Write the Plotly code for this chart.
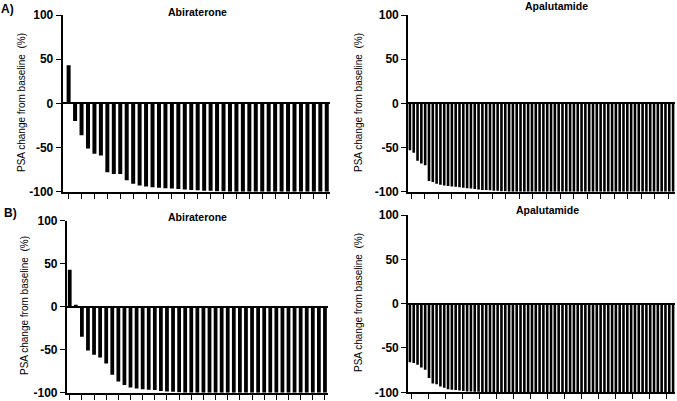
import plotly.graph_objects as go

# ---- data (PSA change from baseline, %) ----
abi_a = [43, -20, -36, -51, -57, -59, -78, -80, -80, -87, -91, -93, -94, -95, -95.5,
         -96, -96.5, -97, -97.5, -98, -98.5, -99, -99, -99.5, -99.5] + [-100] * 16
apa_a = [-53, -56, -65, -68, -70, -88, -89, -91, -92, -93, -93.5, -94, -94.5, -95,
         -95.5, -96, -96.5, -97, -97.5, -98, -98, -98.5, -99, -99, -99.5, -99.5] + [-100] * 44
abi_b = [43, 2, -35, -51, -56, -59, -66, -79, -87, -91, -94, -95, -96, -96.5, -97,
         -98, -98.5, -99, -99.5] + [-100] * 24
apa_b = [-66, -67, -69, -72, -74.5, -84, -90, -91, -93.5, -95, -96.5, -97, -97.5,
         -98, -98.5, -99, -99, -99.5, -99.5] + [-100] * 51

y_ticks = [-100, -50, 0, 50, 100]
y_ticklabels = ["-100", "-50", "0", "50", "100"]
panel_titles = ["Abiraterone", "Apalutamide", "Abiraterone", "Apalutamide"]
y_title = "PSA change from baseline  (%)"

W, H = 677, 401
FONT = "Liberation Sans, Arial, sans-serif"

def px(x):
    return x / W

def py(y):
    return 1 - y / H

panels = [
    # data, x-domain px, y-domain px (top, bottom), bar width, x-range start, tick0, dtick
    dict(data=abi_a, xd=(62.5, 330), yd=(15, 191.7), bw=0.62, r0=0.05, t0=1, dt=2),
    dict(data=apa_a, xd=(408, 675), yd=(15, 191.7), bw=0.68, r0=0.5, t0=1.3, dt=3.55),
    dict(data=abi_b, xd=(66.7, 328), yd=(220.7, 392.7), bw=0.62, r0=0.5, t0=1, dt=2),
    dict(data=apa_b, xd=(408, 675), yd=(215, 392.3), bw=0.68, r0=0.5, t0=1.5, dt=4.45),
]

fig = go.Figure()
layout = dict(
    width=W, height=H, margin=dict(l=0, r=0, t=0, b=0, autoexpand=False),
    paper_bgcolor="white", plot_bgcolor="white", showlegend=False,
    font=dict(family=FONT, color="black"),
)

for i, p in enumerate(panels):
    n = i + 1
    xa = "x" if n == 1 else f"x{n}"
    ya = "y" if n == 1 else f"y{n}"
    cats = list(range(1, len(p["data"]) + 1))
    fig.add_trace(go.Bar(x=cats, y=p["data"], xaxis=xa, yaxis=ya,
                         marker=dict(color="black", line=dict(width=0)),
                         width=p["bw"]))
    xkey = "xaxis" if n == 1 else f"xaxis{n}"
    ykey = "yaxis" if n == 1 else f"yaxis{n}"
    layout[xkey] = dict(
        domain=[px(p["xd"][0]), px(p["xd"][1])], anchor=ya, automargin=False,
        range=[p["r0"], len(p["data"]) + 0.5],
        showline=True, linecolor="black", linewidth=1.6,
        ticks="outside", ticklen=5, tickwidth=1.4, tickcolor="black",
        tickmode="linear", tick0=p["t0"], dtick=p["dt"],
        showticklabels=False, showgrid=False, zeroline=False,
    )
    layout[ykey] = dict(
        domain=[py(p["yd"][1]), py(p["yd"][0])], anchor=xa, automargin=False,
        range=[-100, 100],
        showline=True, linecolor="black", linewidth=1.6,
        ticks="outside", ticklen=5, tickwidth=1.4, tickcolor="black",
        tickvals=y_ticks, ticktext=y_ticklabels,
        tickfont=dict(family=FONT, size=12, color="black", weight="bold"),
        showgrid=False, zeroline=True, zerolinecolor="black", zerolinewidth=1.6,
    )

annotations = []
title_pos = [(197, 12), (556, 6), (197, 217), (547, 210)]
for t, (x, y) in zip(panel_titles, title_pos):
    annotations.append(dict(text=t, x=px(x), y=py(y), xref="paper", yref="paper",
                            showarrow=False, xanchor="center", yanchor="middle",
                            font=dict(family=FONT, size=10.5, color="black", weight="bold")))
ytitle_pos = [(21, 103), (358, 103), (24, 306), (358, 303)]
for (x, y) in ytitle_pos:
    annotations.append(dict(text=y_title, x=px(x), y=py(y), xref="paper", yref="paper",
                            showarrow=False, xanchor="center", yanchor="middle", textangle=-90,
                            font=dict(family=FONT, size=10, color="black")))
for lab, (x, y) in [("A)", (7, 9)), ("B)", (11, 213))]:
    annotations.append(dict(text=lab, x=px(x), y=py(y), xref="paper", yref="paper",
                            showarrow=False, xanchor="center", yanchor="middle",
                            font=dict(family=FONT, size=12, color="black", weight="bold")))
layout["annotations"] = annotations

fig.update_layout(**layout)
fig.write_html("out.html")
